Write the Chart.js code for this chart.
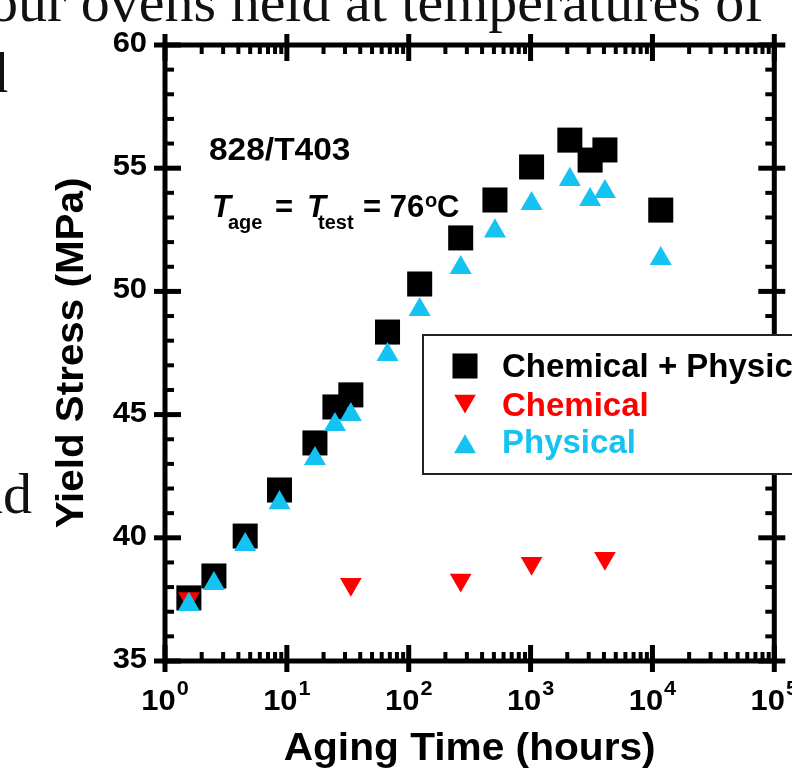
<!DOCTYPE html>
<html>
<head>
<meta charset="utf-8">
<script src="https://cdn.jsdelivr.net/npm/chart.js@4.4.0/dist/chart.umd.min.js"></script>
<style>
  html, body { margin: 0; padding: 0; background: #fff; overflow: hidden; }
  canvas { display: block; }
</style>
</head>
<body>
<canvas id="chart" width="792" height="773"></canvas>
<script>
// aging time (hours) shared by the combined and physical series
const agingHours = [1.57, 2.52, 4.55, 8.7, 17, 24.8, 33.5, 67, 123, 267, 510, 1019, 2100, 3080, 4074, 11700];
const combinedStress = [37.56, 38.45, 40.07, 41.94, 43.85, 45.31, 45.8, 48.35, 50.3, 52.17, 53.71, 55.05, 56.14, 55.33, 55.74, 53.3];
const physicalStress = [37.29, 38.14, 39.72, 41.42, 43.21, 44.59, 45.0, 47.43, 49.26, 50.96, 52.45, 53.56, 54.54, 53.72, 54.05, 51.33];
const chemicalHours = [1.57, 33.5, 267, 1019, 4074];
const chemicalStress = [37.54, 38.11, 38.29, 38.97, 39.17];

const seriesNames = ['Chemical + Physical', 'Chemical', 'Physical'];
const seriesColors = ['#000000', '#ff0000', '#14c3f2'];
const xDecades = [0, 1, 2, 3, 4, 5];
const yTicks = [35, 40, 45, 50, 55, 60];

const SANS = "'Liberation Sans', Arial, Helvetica, sans-serif";
const SERIF = "'Liberation Serif', 'Times New Roman', serif";

function putText(ctx, str, x, y, font, align, sx) {
  ctx.save();
  ctx.translate(x, y);
  ctx.scale(sx || 1, 1);
  ctx.font = font;
  ctx.textAlign = align || 'left';
  ctx.textBaseline = 'alphabetic';
  ctx.fillText(str, 0, 0);
  ctx.restore();
}

function textWidth(ctx, str, font, sx) {
  ctx.save();
  ctx.font = font;
  const w = ctx.measureText(str).width * (sx || 1);
  ctx.restore();
  return w;
}

// bits of the page text around the figure
const pageText = {
  id: 'pageText',
  beforeDraw(chart) {
    const ctx = chart.ctx;
    ctx.save();
    ctx.fillStyle = '#111';
    putText(ctx, 'our ovens held at temperatures of', -11, 21, '58px ' + SERIF);
    putText(ctx, 'd', -21, 92, '58px ' + SERIF);
    putText(ctx, 'nd', -26, 513, '58px ' + SERIF);
    ctx.restore();
  }
};

const axisFrame = {
  id: 'axisFrame',
  beforeDatasetsDraw(chart) {
    const { ctx, chartArea: a, scales: { x, y } } = chart;
    ctx.save();
    ctx.strokeStyle = '#000';
    ctx.fillStyle = '#000';
    ctx.lineWidth = 5;
    ctx.strokeRect(a.left, a.top, a.right - a.left, a.bottom - a.top);

    const line = (x1, y1, x2, y2, w) => {
      ctx.lineWidth = w;
      ctx.beginPath();
      ctx.moveTo(x1, y1);
      ctx.lineTo(x2, y2);
      ctx.stroke();
    };

    // x ticks, log decades with 2..9 minors
    xDecades.forEach(e => {
      const px = x.getPixelForValue(Math.pow(10, e));
      line(px, a.bottom - 16, px, a.bottom + 11, 5);
      line(px, a.top - 11, px, a.top + 16, 5);
      if (e < xDecades[xDecades.length - 1]) {
        for (let m = 2; m <= 9; m++) {
          const mx = x.getPixelForValue(m * Math.pow(10, e));
          line(mx, a.bottom, mx, a.bottom - 9, 4);
          line(mx, a.top, mx, a.top + 9, 4);
        }
      }
    });

    // y ticks every 5 with minors every 1
    for (let v = yTicks[0]; v <= yTicks[yTicks.length - 1]; v++) {
      const py = y.getPixelForValue(v);
      if (yTicks.includes(v)) {
        line(a.left - 11, py, a.left + 16, py, 5);
        line(a.right - 16, py, a.right + 11, py, 5);
      } else {
        line(a.left, py, a.left + 9, py, 4);
        line(a.right, py, a.right - 9, py, 4);
      }
    }

    // tick labels
    yTicks.forEach(v => {
      putText(ctx, String(v), a.left - 18, y.getPixelForValue(v) + 7, 'bold 30px ' + SANS, 'right', 1.03);
    });
    xDecades.forEach(e => {
      const px = x.getPixelForValue(Math.pow(10, e));
      const big = 'bold 30px ' + SANS, small = 'bold 21px ' + SANS;
      const w1 = textWidth(ctx, '10', big, 1.03);
      const w2 = textWidth(ctx, String(e), small, 1.03);
      const start = px - (w1 + 1 + w2) / 2;
      putText(ctx, '10', start, a.bottom + 49, big, 'left', 1.03);
      putText(ctx, String(e), start + w1 + 1, a.bottom + 34, small, 'left', 1.03);
    });

    // axis titles
    putText(ctx, 'Aging Time (hours)', (a.left + a.right) / 2, 760, 'bold 38px ' + SANS, 'center', 1.07);
    ctx.save();
    ctx.translate(83, (a.top + a.bottom) / 2);
    ctx.rotate(-Math.PI / 2);
    putText(ctx, 'Yield Stress (MPa)', 0, 0, 'bold 39px ' + SANS, 'center', 1.035);
    ctx.restore();

    // annotation
    const f = 'bold 31px ' + SANS, fi = 'italic bold 31px ' + SANS, fs = 'bold 20px ' + SANS;
    putText(ctx, '828/T403', 209, 160, f, 'left', 1.08);
    putText(ctx, 'T', 212, 217, fi);
    putText(ctx, 'age', 228, 229, fs);
    putText(ctx, '=', 275, 217, f);
    putText(ctx, 'T', 307, 217, fi);
    putText(ctx, 'test', 318, 229, fs);
    putText(ctx, '= 76', 363, 217, f);
    putText(ctx, 'o', 425, 207, fs);
    putText(ctx, 'C', 437, 217, f);
    ctx.restore();
  }
};

const legendBox = {
  id: 'legendBox',
  afterDraw(chart) {
    const ctx = chart.ctx;
    const box = { left: 423, top: 335, bottom: 474 };
    ctx.save();
    ctx.fillStyle = '#fff';
    ctx.fillRect(box.left, box.top, 400, box.bottom - box.top);
    ctx.strokeStyle = '#222';
    ctx.lineWidth = 2;
    ctx.strokeRect(box.left, box.top, 400, box.bottom - box.top);

    const markerY = [366, 401, 447];
    const baseY = [377, 416, 453];
    chart.data.datasets.forEach((ds, i) => {
      ctx.fillStyle = ds.backgroundColor;
      Chart.helpers.drawPoint(ctx, {
        pointStyle: ds.pointStyle,
        radius: ds.pointRadius,
        rotation: ds.pointRotation || 0,
        borderWidth: 0
      }, 465, markerY[i]);
      ctx.fillStyle = seriesColors[i];
      putText(ctx, ds.label, 502, baseY[i], 'bold 33px ' + SANS, 'left', 1);
    });
    ctx.restore();
  }
};

const toPoints = (xs, ys) => xs.map((t, i) => ({ x: t, y: ys[i] }));

new Chart(document.getElementById('chart'), {
  type: 'scatter',
  data: {
    datasets: [
      {
        label: seriesNames[0],
        data: toPoints(agingHours, combinedStress),
        pointStyle: 'rect',
        pointRadius: 17.7,
        pointBorderWidth: 0,
        backgroundColor: seriesColors[0],
        order: 3
      },
      {
        label: seriesNames[1],
        data: toPoints(chemicalHours, chemicalStress),
        pointStyle: 'triangle',
        pointRotation: 180,
        pointRadius: 12.5,
        pointBorderWidth: 0,
        backgroundColor: seriesColors[1],
        order: 2
      },
      {
        label: seriesNames[2],
        data: toPoints(agingHours, physicalStress),
        pointStyle: 'triangle',
        pointRadius: 12.7,
        pointBorderWidth: 0,
        backgroundColor: seriesColors[2],
        order: 1
      }
    ]
  },
  options: {
    responsive: false,
    animation: false,
    events: [],
    clip: false,
    layout: { padding: { left: 165, right: 11, top: 45, bottom: 112 } },
    scales: {
      x: { type: 'logarithmic', min: 1, max: 100000, display: false },
      y: { type: 'linear', min: 35, max: 60, display: false }
    },
    plugins: {
      legend: { display: false },
      tooltip: { enabled: false }
    }
  },
  plugins: [pageText, axisFrame, legendBox]
});
</script>
</body>
</html>
